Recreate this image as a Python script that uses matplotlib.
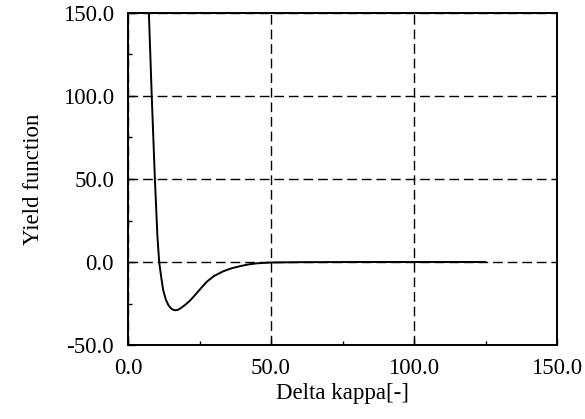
import matplotlib.pyplot as plt
from matplotlib.ticker import MultipleLocator

plt.rcParams['font.family'] = ['Liberation Serif', 'DejaVu Serif']

# valores
delta_kappa = [7.3, 8.3, 9.4, 10.3, 10.9, 11.6, 12.3, 13.2, 14.1, 15.0, 15.8, 16.7, 17.6,
               18.6, 20.0, 21.7, 23.5, 25.5, 27.5, 30.0, 33.3, 36.0, 39.2, 42.0,
               45.0, 50.0, 60.0, 80.0, 100.0, 125.0]
yield_fn = [150.0, 100.0, 50.0, 15.0, 0.0, -9.0, -16.9, -22.5, -25.9, -27.9, -28.8, -29.1, -28.7,
            -27.6, -25.8, -23.2, -19.8, -15.8, -12.0, -8.5, -5.6, -3.9, -2.5, -1.5,
            -0.8, -0.3, -0.1, 0.0, 0.0, 0.0]

x_ticks = [0, 50, 100, 150]
y_ticks = [-50, 0, 50, 100, 150]

fig = plt.figure(figsize=(5.85, 4.19), dpi=100)
ax = fig.add_axes([128 / 585, 1 - 345 / 419, 429 / 585, 332 / 419])

ax.plot(delta_kappa, yield_fn, color='black', linewidth=1.4)

ax.set_xlim(0, 150)
ax.set_ylim(-50, 150)
ax.set_xticks(x_ticks)
ax.set_yticks(y_ticks)
ax.set_xticklabels([f'{v:.1f}' for v in x_ticks])
ax.set_yticklabels([f'{v:.1f}' for v in y_ticks])
ax.xaxis.set_minor_locator(MultipleLocator(25))
ax.yaxis.set_minor_locator(MultipleLocator(25))

ax.tick_params(which='both', direction='in', top=False, right=False, width=1.0)
ax.tick_params(which='major', length=5, labelsize=16.5, pad=9)
ax.tick_params(which='minor', length=3)
ax.tick_params(axis='y', which='major', pad=10)

ax.grid(True, which='major', color='black', linestyle=(0, (7, 3.5)), linewidth=1.0)
for s in ax.spines.values():
    s.set_linewidth(1.4)

ax.set_xlabel('Delta kappa[-]', fontsize=16.5, labelpad=3)
ax.set_ylabel('Yield function', fontsize=16.5, labelpad=14)

plt.savefig('out.png', dpi=100)
